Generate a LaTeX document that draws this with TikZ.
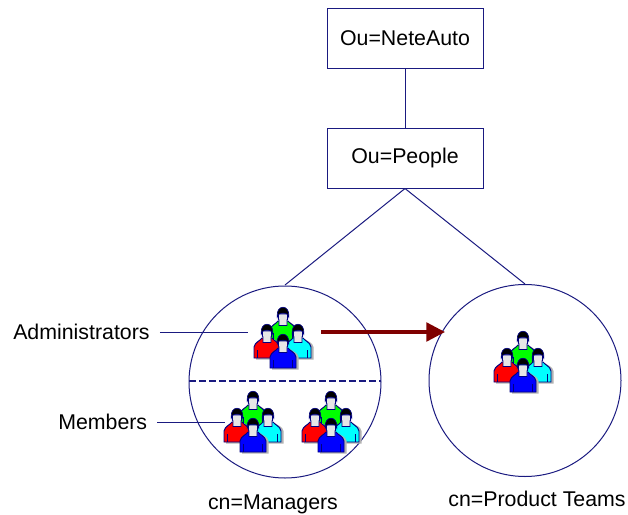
\documentclass[tikz,border=0pt]{standalone}
\usepackage{fontspec}
\usetikzlibrary{arrows.meta}
\setmainfont{Liberation Sans}
\definecolor{navyline}{HTML}{1A1A80}
\definecolor{arrowred}{HTML}{7F0000}
\definecolor{facegray}{HTML}{E6E6E6}
\definecolor{pgreen}{RGB}{0,255,0}
\definecolor{pred}{RGB}{255,0,0}
\definecolor{pcyan}{RGB}{0,255,255}
\definecolor{pblue}{RGB}{0,0,255}
\definecolor{outl}{HTML}{000080}
\tikzset{
  x=0.75pt,y=-0.75pt,
  entrybox/.style={draw=navyline,line width=0.75pt,fill=white,minimum width=117pt,minimum height=45pt,inner sep=0pt,font=\fontsize{16pt}{19pt}\selectfont},
  groupcircle/.style={circle,draw=navyline,line width=0.75pt,minimum size=144pt,inner sep=0pt},
  link/.style={draw=navyline,line width=0.75pt},
  lbl/.style={inner sep=0pt,font=\fontsize{16pt}{19pt}\selectfont},
  person/.pic={
    % soft shadow
    \fill[black!30] (-11,28.5) -- (-11,17) -- (-2,9) -- (7,8) .. controls (10,11) and (14.5,11) .. (15.5,16) -- (15.5,28.5) -- cycle;
    % body
    \path[draw=outl,line width=0.7pt,fill=#1] (-13,27) -- (-13,16) .. controls (-12,11) and (-7,10) .. (-5,7) -- (5,7) .. controls (7,10) and (12,11) .. (13,16) -- (13,27) -- cycle;
    \draw[outl,line width=0.4pt] (-9.5,19) -- (-9.5,27) (9.5,19) -- (9.5,27);
    % face and collar
    \path[draw=outl,line width=0.7pt,fill=facegray] (-4.7,0) -- (-4.7,5) -- (-4,6) -- (-4,11.5) -- (4,11.5) -- (4,6) -- (4.7,5) -- (4.7,0) -- cycle;
    % hair
    \path[draw=outl,line width=0.5pt,fill=black] (-5.7,3) .. controls (-7.5,-10) and (7.5,-10) .. (5.7,3) -- (4,0) .. controls (2,-1) and (-2,-1) .. (-4,0) -- cycle;
  },
  people/.pic={
    \pic at (0,-27) {person=pgreen};
    \pic at (-16,-10) {person=pred};
    \pic at (15,-10) {person=pcyan};
    \pic at (0,0) {person=pblue};
  },
}
\begin{document}
\begin{tikzpicture}
\useasboundingbox (0,0) rectangle (628,514);
\node[entrybox] (netauto) at (405,38) {Ou=NeteAuto};
\node[entrybox] (ouppl) at (405,158) {Ou=People};
\node[groupcircle] (mgr) at (285,382) {};
\node[groupcircle] (teams) at (525,380.5) {};
\coordinate (mgrtop) at (285,285);
\coordinate (teamtop) at (525,284);
\draw[link] (netauto) -- (ouppl);
\draw[link] (ouppl.south) -- (mgrtop);
\draw[link] (ouppl.south) -- (teamtop);
\coordinate (dashl) at (189,381);
\coordinate (dashr) at (381,381);
\draw[navyline,line width=1pt,dash pattern=on 5pt off 2.5pt] (dashl) -- (dashr);
\node[lbl,anchor=west] (adm) at (13,332) {Administrators};
\node[lbl,anchor=west] (mem) at (58,422) {Members};
\coordinate (admend) at (248,332);
\coordinate (memend) at (225,422);
\draw[link] (adm.east) ++(10,0) -- (admend);
\draw[link] (mem.east) ++(10,0) -- (memend);
\coordinate (arrs) at (321,332);
\coordinate (arre) at (445,332);
\draw[arrowred,line width=2.5pt,-{Triangle[length=14pt,width=14pt]}] (arrs) -- (arre);
\pic at (283,341) {people};
\pic at (253,425) {people};
\pic at (331,425) {people};
\pic at (523,365) {people};
\node[lbl] (cnm) at (273,504) {cn=Managers};
\node[lbl] (cnp) at (537,499) {cn=Product Teams};
\end{tikzpicture}
\end{document}
